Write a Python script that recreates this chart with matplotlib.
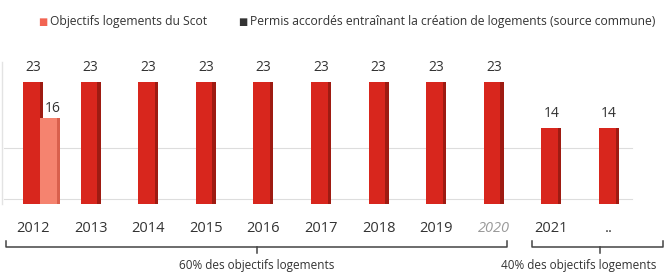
import matplotlib.pyplot as plt
import numpy as np

years = ["2012", "2013", "2014", "2015", "2016", "2017", "2018", "2019", "2020", "2021", ".."]
objectifs = [23, 23, 23, 23, 23, 23, 23, 23, 23, 14, 14]
permis_years = ["2012"]
permis = [16]
groups = ["60% des objectifs logements", "40% des objectifs logements"]

red = "#d8261d"
red_dark = "#9e1b12"
pink = "#f5836f"
pink_dark = "#d9604d"
txt = "#333333"

plt.rcParams["font.family"] = ["Open Sans", "DejaVu Sans"]

fig = plt.figure(figsize=(6.7, 2.73), dpi=100)
ax = fig.add_axes([0, 0, 1, 1])
# one data unit = 57.6 px horizontally, 5.09 px vertically
ax.set_xlim(-33 / 57.6, 637 / 57.6)
ax.set_ylim(-74 / 5.09, 199 / 5.09)
ax.axis("off")

x = np.arange(len(years))
w = 0.35

# faint grid
for gy in [0, 10]:
    ax.plot([-0.5, 10.4], [gy, gy], color="#dddddd", lw=0.8, zorder=0)
ax.plot([-0.53, -0.53], [-1, 27], color="#e3e3e3", lw=1, zorder=0)

# objectifs bars with a darker side for depth
ax.bar(x, np.array(objectifs) + 1, bottom=-1, width=w, color=red, zorder=2)
ax.bar(x + w / 2 - 0.03, np.array(objectifs) + 1, bottom=-1, width=0.06,
       color=red_dark, zorder=2)
for xi, v in zip(x, objectifs):
    ax.text(xi, v + 2.8, str(v), ha="center", va="center", fontsize=10, color=txt)

# permis bars
px = np.array([years.index(y) for y in permis_years]) + 0.295
ax.bar(px, np.array(permis) + 1, bottom=-1, width=w, color=pink, zorder=3)
ax.bar(px + w / 2 - 0.03, np.array(permis) + 1, bottom=-1, width=0.06,
       color=pink_dark, zorder=3)
for xi, v in zip(px, permis):
    ax.text(xi + 0.05, v + 1.8, str(v), ha="center", va="center", fontsize=10, color=txt)

# year labels
for xi, y in zip(x, years):
    c = "#9a9a9a" if y == "2020" else txt
    st = "italic" if y == "2020" else "normal"
    ax.text(xi, -5.7, y, ha="center", va="center", fontsize=10.5, color=c, style=st)


def brace(x0, x1, xm, label, lx):
    y_top, y_line, y_tick = -8.2, -9.4, -10.7
    ax.plot([x0, x0, x1, x1], [y_top, y_line, y_line, y_top], color="#444444", lw=1.1)
    ax.plot([xm, xm], [y_line, y_tick], color="#444444", lw=1.1)
    ax.text(lx, -13.0, label, ha="center", va="center", fontsize=8.5, color=txt)


brace(-0.47, 8.23, 3.89, groups[0], 3.89)
brace(8.66, 10.94, 9.84, groups[1], 9.48)

# legend
fig.text(43 / 670, 1 - 22 / 273, "■", color="#f26452", fontsize=7, ha="center", va="center")
fig.text(50 / 670, 1 - 22 / 273, "Objectifs logements du Scot", color=txt,
         fontsize=8.7, ha="left", va="center")
fig.text(243 / 670, 1 - 22 / 273, "■", color="#333333", fontsize=7, ha="center", va="center")
fig.text(250 / 670, 1 - 22 / 273,
         "Permis accordés entraînant la création de logements (source commune)",
         color=txt, fontsize=8.7, ha="left", va="center")

fig.savefig("out.png", dpi=100, facecolor="white")
